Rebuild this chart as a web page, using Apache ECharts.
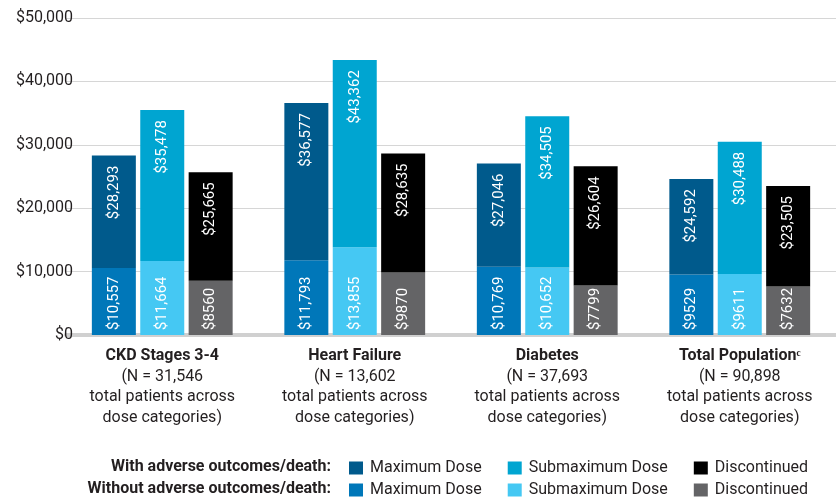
<!DOCTYPE html>
<html>
<head>
<meta charset="utf-8">
<script src="https://cdn.jsdelivr.net/npm/echarts@6/dist/echarts.min.js"></script>
<style>html,body{margin:0;padding:0;background:#fff}#c{width:836px;height:502px}</style>
</head>
<body>
<div id="c"></div>
<script>
const categories = ['CKD Stages 3-4', 'Heart Failure', 'Diabetes', 'Total Population\u1D9C'];
const patientCounts = ['31,546', '13,602', '37,693', '90,898'];
// total cost (with adverse outcomes/death) per dose category
const maxWith = [28293, 36577, 27046, 24592];
const subWith = [35478, 43362, 34505, 30488];
const discWith = [25665, 28635, 26604, 23505];
// cost without adverse outcomes/death
const maxWithout = [10557, 11793, 10769, 9529];
const subWithout = [11664, 13855, 10652, 9611];
const discWithout = [8560, 9870, 7799, 7632];
const yTicks = [0, 10000, 20000, 30000, 40000, 50000];

const FONT = 'Roboto';
const TXT = '#231f20';

function money(v) {
  return '$' + (v >= 10000 ? v.toLocaleString('en-US') : String(v));
}

function topLabel(totals) {
  return {
    show: true, position: 'insideTop', rotate: 90, align: 'right', verticalAlign: 'middle',
    distance: 10, color: '#fff', fontFamily: FONT, fontSize: 15,
    formatter: p => money(totals[p.dataIndex])
  };
}
function bottomLabel(vals) {
  return {
    show: true, position: 'insideBottom', rotate: 90, align: 'left', verticalAlign: 'middle',
    distance: 5, color: '#fff', fontFamily: FONT, fontSize: 15,
    formatter: p => money(vals[p.dataIndex])
  };
}

function pair(stack, withoutVals, withVals, cWithout, cWith, label) {
  return [
    { name: 'without|' + label, type: 'bar', stack: stack, barWidth: 44, barGap: '10%',
      data: withoutVals, itemStyle: { color: cWithout }, label: bottomLabel(withoutVals) },
    { name: 'with|' + label, type: 'bar', stack: stack, barWidth: 44, barGap: '10%',
      data: withVals.map((t, i) => t - withoutVals[i]), itemStyle: { color: cWith }, label: topLabel(withVals) }
  ];
}

const series = [].concat(
  pair('max', maxWithout, maxWith, '#0077b9', '#005a8c', 'Maximum Dose'),
  pair('sub', subWithout, subWith, '#45c8f3', '#00a5d1', 'Submaximum Dose'),
  pair('disc', discWithout, discWith, '#646466', '#000000', 'Discontinued')
);

const legendCommon = {
  left: 349, orient: 'horizontal', icon: 'rect', itemWidth: 14, itemHeight: 13, itemGap: 26,
  selectedMode: false, padding: 0,
  textStyle: { fontFamily: FONT, fontSize: 16, color: TXT, padding: [0, 0, 0, 2] },
  formatter: n => n.split('|')[1]
};

const chart = echarts.init(document.getElementById('c'));
chart.setOption({
  animation: false,
  grid: { left: 66, right: 0, top: 18, bottom: 167 },
  xAxis: {
    type: 'category', data: categories, offset: 2,
    axisLine: { lineStyle: { color: '#d0d0d0', width: 4 } },
    axisTick: { show: false },
    axisLabel: {
      margin: 9, interval: 0, color: TXT, fontFamily: FONT, fontSize: 16, lineHeight: 20.5,
      formatter: (v, i) => '{b|' + v + '}\n(N = ' + patientCounts[i] + '\ntotal patients across\ndose categories)',
      rich: { b: { fontWeight: 'bold', fontFamily: FONT, fontSize: 16, color: TXT, lineHeight: 20.5 } }
    }
  },
  yAxis: {
    type: 'value', min: yTicks[0], max: yTicks[yTicks.length - 1], interval: yTicks[1] - yTicks[0],
    axisLine: { show: false }, axisTick: { show: false },
    splitLine: { lineStyle: { color: '#d6d6d6', width: 1 } },
    axisLabel: { margin: -7, color: TXT, fontFamily: FONT, fontSize: 16, formatter: v => money(v).replace(/^\$(\d)(\d{3})$/, '$$$1,$2') }
  },
  legend: [
    Object.assign({}, legendCommon, { top: 460, data: ['with|Maximum Dose', 'with|Submaximum Dose', 'with|Discontinued'] }),
    Object.assign({}, legendCommon, { top: 482, data: ['without|Maximum Dose', 'without|Submaximum Dose', 'without|Discontinued'] })
  ],
  graphic: [
    { type: 'text', right: 836 - 331, top: 459, style: { text: 'With adverse outcomes/death:', font: 'bold 16px Roboto', fill: TXT, textAlign: 'right' } },
    { type: 'text', right: 836 - 331, top: 481, style: { text: 'Without adverse outcomes/death:', font: 'bold 16px Roboto', fill: TXT, textAlign: 'right' } }
  ],
  series: series
});
</script>
</body>
</html>
